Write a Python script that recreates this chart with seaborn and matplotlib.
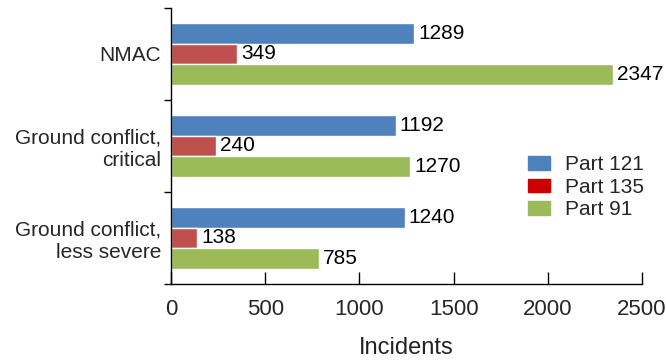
import matplotlib
matplotlib.use("Agg")
import matplotlib.pyplot as plt
import matplotlib.patches as mpatches
import pandas as pd
import numpy as np
import seaborn as sns

categories = ["NMAC", "Ground conflict,\ncritical", "Ground conflict,\nless severe"]
series = ["Part 121", "Part 135", "Part 91"]
part121 = [1289, 1192, 1240]
part135 = [349, 240, 138]
part91 = [2347, 1270, 785]

bar_colors = ["#4F81BD", "#C0504D", "#9BBB59"]
legend_colors = ["#4F81BD", "#CC0000", "#9BBB59"]

df = pd.DataFrame({
    "category": categories * 3,
    "series": [s for s in series for _ in categories],
    "value": part121 + part135 + part91,
})

sns.set_style("white")
plt.rcParams["font.family"] = ["Liberation Sans", "DejaVu Sans"]

fig = plt.figure(figsize=(6.66, 3.62), dpi=100)
ax = fig.add_axes([0.2568, 0.2155, 0.964 - 0.2568, 0.978 - 0.2155])

sns.barplot(
    data=df,
    y="category",
    x="value",
    hue="series",
    orient="h",
    palette=bar_colors,
    width=0.67,
    saturation=1,
    legend=False,
    ax=ax
)

for container in ax.containers:
    ax.bar_label(container, padding=3, fontsize=15, color="black")

ax.set_xlim(0, 2500)
ax.set_ylim(2.5, -0.5)
ax.set_xticks(np.arange(0, 2501, 500))
ax.set_xlabel("Incidents", fontsize=17, labelpad=12, color="#222222")
ax.set_ylabel("")

# category boundary ticks on the y axis
ax.set_yticks(np.arange(-0.5, 2.6, 1), minor=True)
ax.tick_params(axis="y", which="major", length=0, pad=7, labelsize=15)
ax.tick_params(axis="y", which="minor", length=5, width=1, direction="out", color="black", left=True)
ax.tick_params(axis="x", which="major", length=9, width=1, direction="in", pad=11, labelsize=16, color="black", bottom=True)

for lbl in ax.get_yticklabels():
    lbl.set_horizontalalignment("right")

sns.despine(ax=ax, top=True, right=True)
for side in ["left", "bottom"]:
    ax.spines[side].set_color("black")
    ax.spines[side].set_linewidth(1)

handles = [mpatches.Patch(color=c, label=s) for c, s in zip(legend_colors, series)]
fig.legend(
    handles=handles,
    loc="center left",
    bbox_to_anchor=(0.793, 0.483),
    frameon=False,
    fontsize=15,
    handlelength=1.06,
    handleheight=0.62,
    handletextpad=0.72,
    labelspacing=0.17,
    borderpad=0,
    borderaxespad=0
)

fig.savefig("out.png", dpi=100)
